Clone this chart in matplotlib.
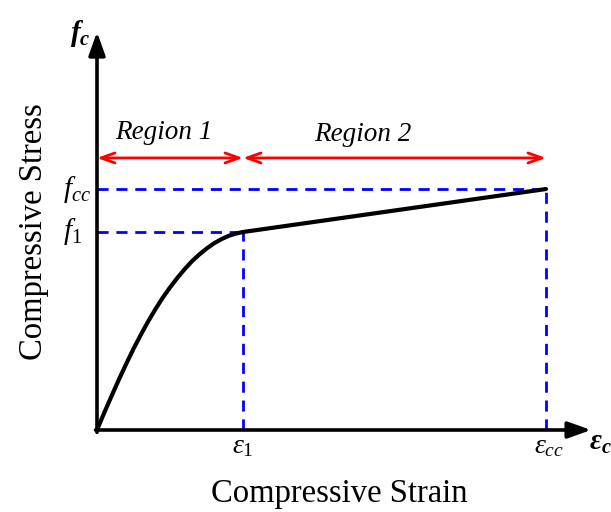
"""Schematic compressive stress-strain curve with two regions."""

import matplotlib.pyplot as plt

plt.rcParams["font.family"] = "Liberation Serif"
plt.rcParams["mathtext.fontset"] = "custom"
plt.rcParams["mathtext.rm"] = "Liberation Serif"
plt.rcParams["mathtext.it"] = "Liberation Serif:italic"
plt.rcParams["mathtext.bf"] = "Liberation Serif:italic:bold"
plt.rcParams["mathtext.default"] = "it"

# normalised strain / stress (eps_1 = 1, f_1 = 1)
strain_region1 = [0.0, 0.05, 0.10, 0.15, 0.20, 0.25, 0.30, 0.35, 0.40, 0.45, 0.50,
                  0.55, 0.60, 0.65, 0.70, 0.75, 0.80, 0.85, 0.90, 0.95, 1.0]
stress_region1 = [0.0, 0.088, 0.172, 0.255, 0.334, 0.410, 0.481, 0.548, 0.610, 0.668, 0.720,
                  0.768, 0.812, 0.852, 0.886, 0.916, 0.942, 0.963, 0.980, 0.992, 1.0]
strain_region2 = [1.0, 3.075]
stress_region2 = [1.0, 1.217]

eps_1, eps_cc = 1.0, 3.075
f_1, f_cc = 1.0, 1.217
x_axis_end = 3.384
y_axis_end = 2.01
region_arrow_y = 1.374

tick_labels_x = [r"$\varepsilon_{1}$", r"$\varepsilon_{cc}$"]
tick_labels_y = [r"$f_{1}$", r"$f_{cc}$"]
region_names = ["Region 1", "Region 2"]

fig = plt.figure(figsize=(6.11, 5.12), dpi=100)
ax = fig.add_axes([0, 0, 1, 1])
ax.set_xlim(-97 / 146, 514 / 146)
ax.set_ylim(-82 / 198, 430 / 198)
ax.axis("off")

# axes with arrow heads
arrow_kw = dict(arrowstyle="-|>,head_length=0.7,head_width=0.25", lw=2.6, color="black",
                shrinkA=0, shrinkB=0, mutation_scale=20)
ax.annotate("", xy=(x_axis_end, 0), xytext=(-0.01, 0), arrowprops=arrow_kw)
ax.annotate("", xy=(0, y_axis_end), xytext=(0, -0.012), arrowprops=arrow_kw)

# guide lines to the key points
dash_kw = dict(color="#0000ff", lw=2, dashes=(4, 2.8))
for x_pt, y_pt in [(eps_1, f_1), (eps_cc, f_cc)]:
    ax.plot([0, x_pt], [y_pt, y_pt], **dash_kw)
    ax.plot([x_pt, x_pt], [0, y_pt], **dash_kw)

# stress-strain curve
ax.plot(strain_region1, stress_region1, color="black", lw=3, solid_capstyle="round",
        solid_joinstyle="round")
ax.plot(strain_region2, stress_region2, color="black", lw=3, solid_capstyle="round")

# region extents
red_kw = dict(arrowstyle="<->,head_length=0.5,head_width=0.18", lw=2, color="#ff0000",
              shrinkA=0, shrinkB=0, mutation_scale=20)
ax.annotate("", xy=(eps_1, region_arrow_y), xytext=(0, region_arrow_y), arrowprops=red_kw)
ax.annotate("", xy=(eps_cc, region_arrow_y), xytext=(eps_1, region_arrow_y), arrowprops=red_kw)
ax.text(0.459, 1.50, region_names[0], fontsize=19.5, style="italic", ha="center", va="center")
ax.text(1.82, 1.49, region_names[1], fontsize=19.5, style="italic", ha="center", va="center")

# point labels
ax.text(eps_1, -0.085, tick_labels_x[0], fontsize=20, ha="center", va="center")
ax.text(eps_cc + 0.02, -0.085, tick_labels_x[1], fontsize=20, ha="center", va="center")
ax.text(-0.23, f_1, tick_labels_y[0], fontsize=21, ha="left", va="center")
ax.text(-0.23, f_cc, tick_labels_y[1], fontsize=21, ha="left", va="center")
ax.text(3.37, -0.065, r"$\mathbf{\varepsilon_c}$", fontsize=21, ha="left", va="center")
ax.text(-0.116, 2.0, r"$\mathbf{f_c}$", fontsize=21, ha="center", va="center")

# axis titles
ax.text(1.66, -0.32, "Compressive Strain", fontsize=23.5, ha="center", va="center")
ax.text(-0.43, 1.0, "Compressive Stress", fontsize=23.5, ha="center", va="center", rotation=90)

fig.savefig("out.png", dpi=100)
